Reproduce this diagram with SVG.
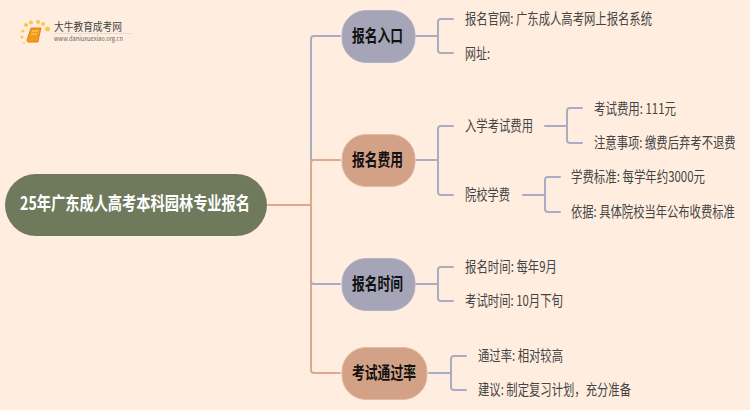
<svg xmlns="http://www.w3.org/2000/svg" width="750" height="410" viewBox="0 0 750 410">
<style>
text{font-family:"Noto Sans CJK SC","Liberation Sans",sans-serif}
.c{fill:none;stroke-width:2;stroke-linecap:round;stroke-linejoin:round}
.g{stroke:#a9adc4}
.o{stroke:#dfa88c}
.t{font-size:15px;fill:#444}
.b{font-size:17.500px;font-weight:700;fill:#111}
.n1{fill:#a5a5b7;stroke:#b3b3c6}
.n2{fill:#d3a186;stroke:#e3b9a2}
</style>
<rect width="750" height="410" fill="#ffeee0"/>
<g id="logo">
<g fill="#f9c84a"><circle cx="26" cy="25" r="2"/><circle cx="31" cy="22.500" r="2"/><circle cx="38" cy="22" r="2"/><circle cx="43" cy="24" r="2"/><circle cx="47.500" cy="29" r="2.500"/><circle cx="23" cy="31" r="1.500"/><circle cx="22" cy="37" r="1.500"/><circle cx="24" cy="43" r="1"/></g>
<path d="M31 28H41Q39 36 38 42H28Q27 42 27 40Z" fill="#f09a1e" stroke="#e8820f"/>
<path d="M32 31H38M31 34H37" stroke="#ffd27a" fill="none"/>
<text x="54" y="31" font-size="11" fill="#444" textLength="68" lengthAdjust="spacingAndGlyphs">大牛教育成考网</text>
<path d="M54 33.500H132" stroke="#e6dcd2"/>
<text x="54" y="41" font-size="6" fill="#666" font-family="Liberation Sans" textLength="69" lengthAdjust="spacingAndGlyphs">www.daniuxuexiao.org.cn</text>
</g>
<g id="connectors">
<path class="c o" d="M268 205H311"/>
<path class="c g" d="M340 36H314Q311 36 311 39V160"/>
<path class="c o" d="M340 160H314Q311 160 311 163V370Q311 373 314 373H340"/>
<path class="c g" d="M311 281Q311 284 314 284H340"/>
<path class="c g" d="M416 36H438M453 19H441Q438 19 438 22V50Q438 53 441 53H453"/>
<path class="c g" d="M416 160H438M453 126H441Q438 126 438 129V192Q438 195 441 195H453"/>
<path class="c g" d="M416 284H438M453 267H441Q438 267 438 270V298Q438 301 441 301H453"/>
<path class="c g" d="M429 373H451M466 356H454Q451 356 451 359V387Q451 390 454 390H466"/>
<path class="c g" d="M545 126H567M582 108H570Q567 108 567 111V140Q567 143 570 143H582"/>
<path class="c g" d="M523 195H545M560 177H548Q545 177 545 180V209Q545 212 548 212H560"/>
</g>
<g id="root"><rect x="5" y="174" width="262" height="62" rx="31" fill="#6f7a5c"/><text x="20" y="210" font-size="18.500" font-weight="700" fill="#fff" textLength="230" lengthAdjust="spacingAndGlyphs">25年广东成人高考本科园林专业报名</text></g>
<g id="n1"><rect class="n1" x="342" y="10.500" width="73" height="52" rx="24"/><text class="b" x="352" y="42" textLength="51" lengthAdjust="spacingAndGlyphs">报名入口</text></g>
<g id="n2"><rect class="n2" x="342" y="134.500" width="73" height="52" rx="24"/><text class="b" x="352" y="166" textLength="51" lengthAdjust="spacingAndGlyphs">报名费用</text></g>
<g id="n3"><rect class="n1" x="342" y="258.500" width="73" height="52" rx="24"/><text class="b" x="352" y="290" textLength="51" lengthAdjust="spacingAndGlyphs">报名时间</text></g>
<g id="n4"><rect class="n2" x="342" y="347.500" width="85" height="52" rx="24"/><text class="b" x="352" y="379" textLength="64" lengthAdjust="spacingAndGlyphs">考试通过率</text></g>
<g id="l1"><text class="t" x="465" y="24" textLength="187" lengthAdjust="spacingAndGlyphs">报名官网: 广东成人高考网上报名系统</text></g>
<g id="l2"><text class="t" x="465" y="59" textLength="25" lengthAdjust="spacingAndGlyphs">网址:</text></g>
<g id="l3"><text class="t" x="465" y="131" textLength="68" lengthAdjust="spacingAndGlyphs">入学考试费用</text></g>
<g id="l4"><text class="t" x="465" y="200" textLength="45" lengthAdjust="spacingAndGlyphs">院校学费</text></g>
<g id="l5"><text class="t" x="594" y="114" textLength="82" lengthAdjust="spacingAndGlyphs">考试费用: 111元</text></g>
<g id="l6"><text class="t" transform="translate(594 148) scale(.756 1)">注意事项: 缴费后弃考不退费</text></g>
<g id="l7"><text class="t" x="571" y="182" textLength="134" lengthAdjust="spacingAndGlyphs">学费标准: 每学年约3000元</text></g>
<g id="l8"><text class="t" transform="translate(571 217) scale(.754 1)">依据: 具体院校当年公布收费标准</text></g>
<g id="l9"><text class="t" x="465" y="272" textLength="92" lengthAdjust="spacingAndGlyphs">报名时间: 每年9月</text></g>
<g id="l10"><text class="t" x="465" y="306" textLength="98" lengthAdjust="spacingAndGlyphs">考试时间: 10月下旬</text></g>
<g id="l11"><text class="t" x="478" y="361" textLength="85" lengthAdjust="spacingAndGlyphs">通过率: 相对较高</text></g>
<g id="l12"><text class="t" x="478" y="395" textLength="153" lengthAdjust="spacingAndGlyphs">建议: 制定复习计划，充分准备</text></g>
</svg>
